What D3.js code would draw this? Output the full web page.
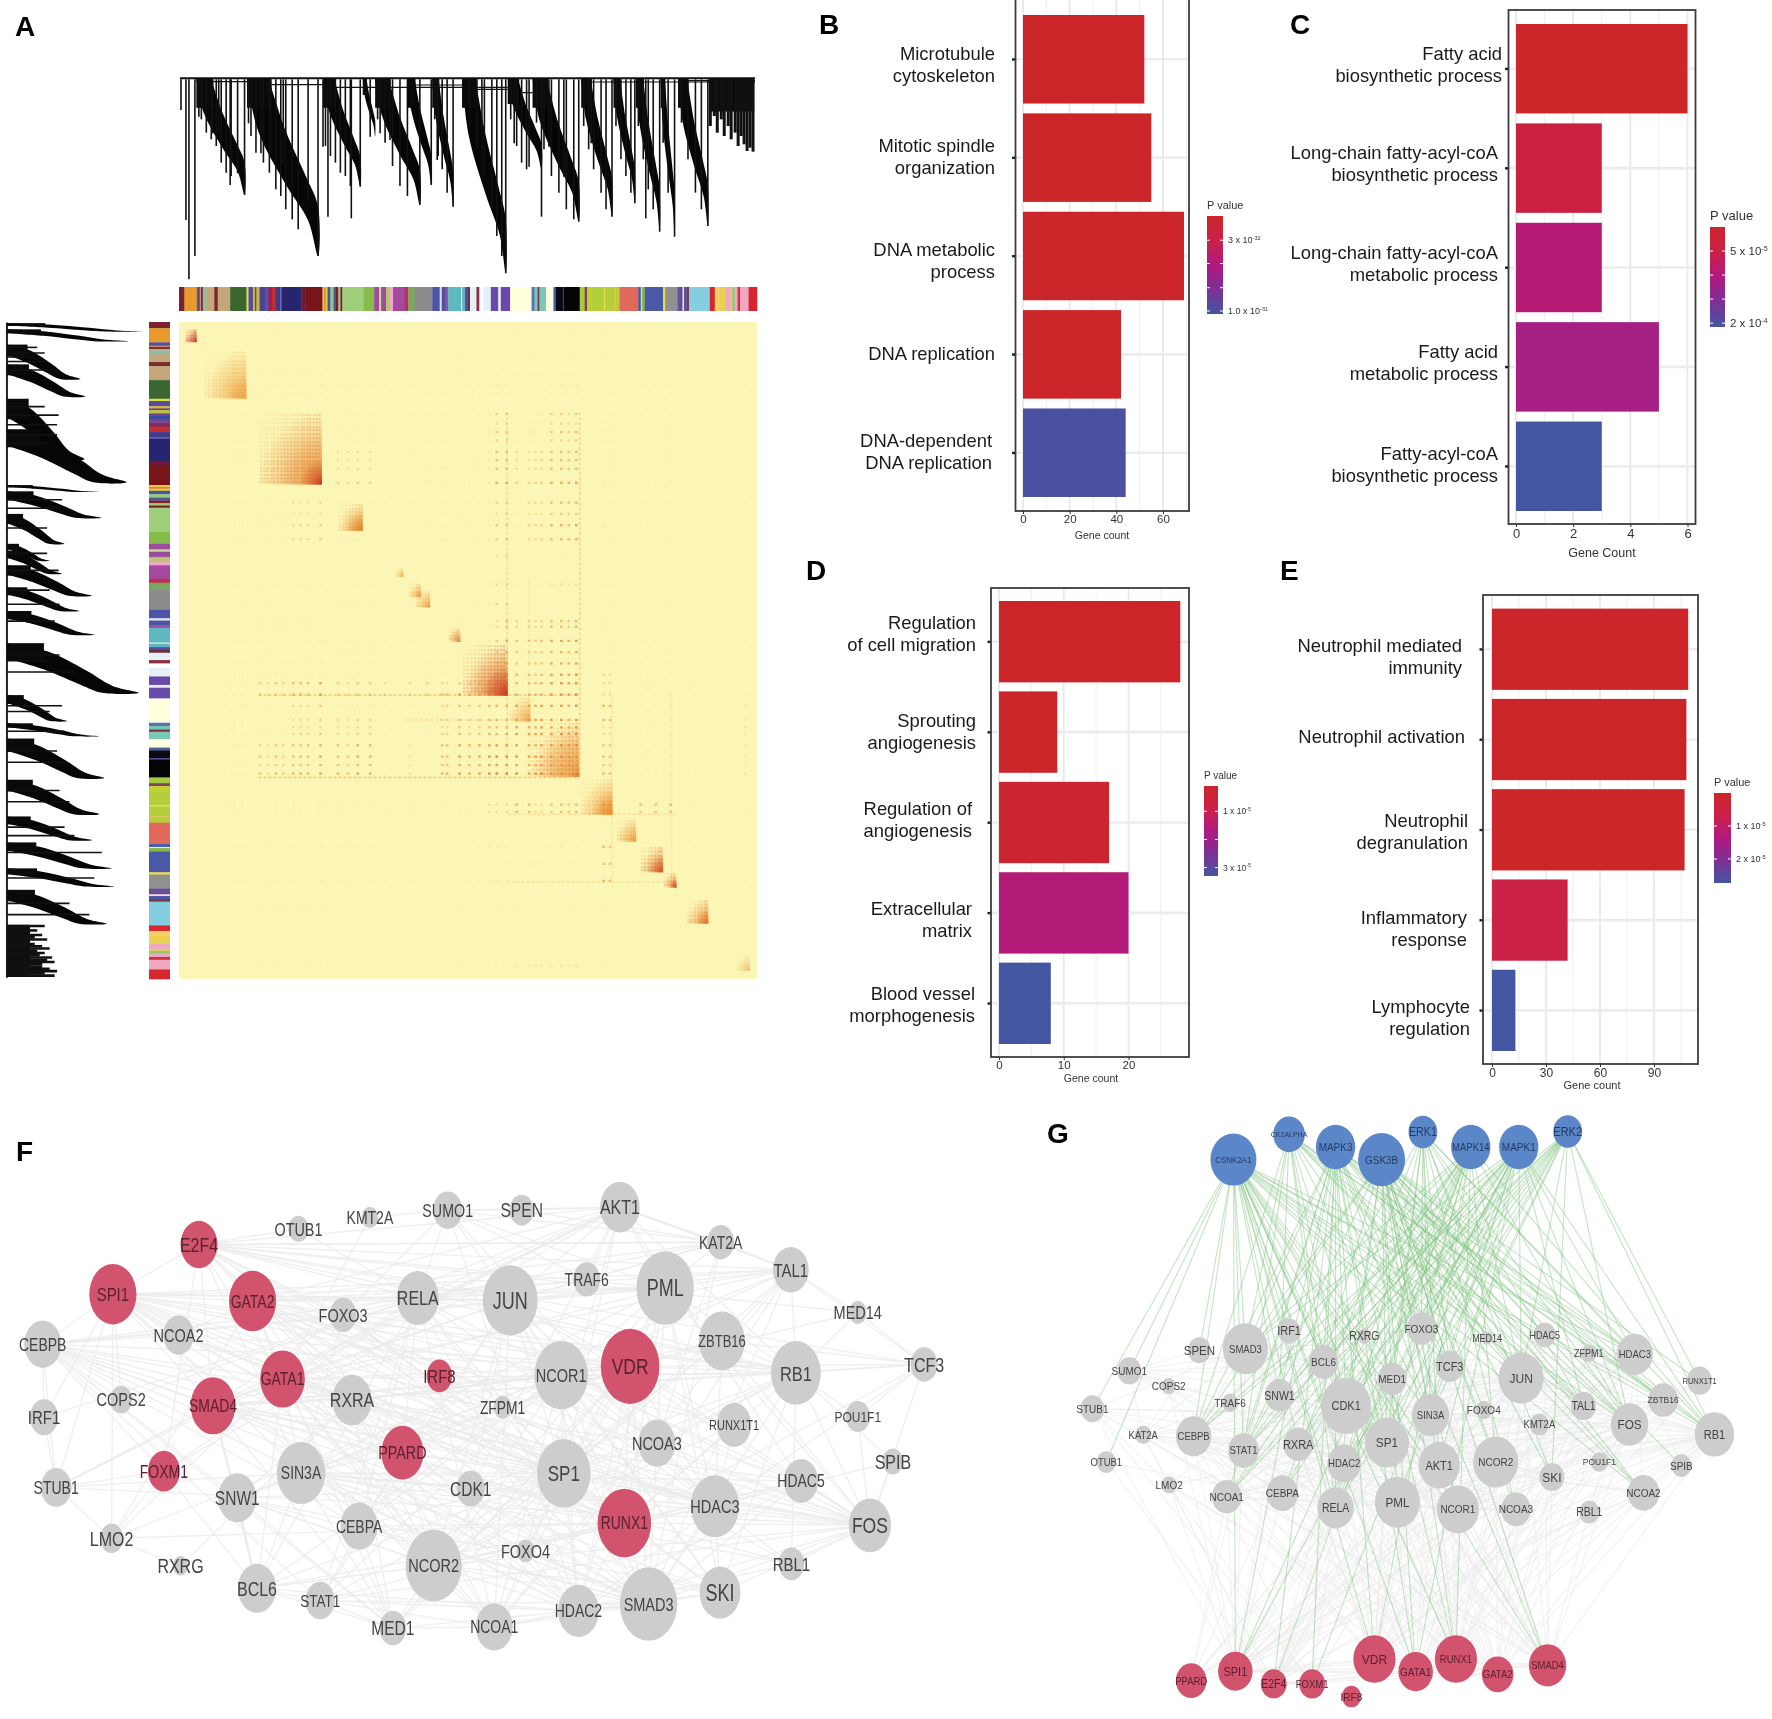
<!DOCTYPE html>
<html>
<head>
<meta charset="utf-8">
<script src="https://cdn.jsdelivr.net/npm/d3@7"></script>
<style>
  html, body { margin: 0; background: #fff; }
  svg { display: block; filter: blur(0.45px); }
  text { font-family: "Liberation Sans", Arial, sans-serif; }
</style>
</head>
<body>
<div id="visualization"></div>
<script>
// ---- panel A: gene tree, module strip, TOM heatmap (gene rank runs 0..1164) ----
const stripStart = [0,11,36,42,44,48,58,71,78,103,136,140,149,153,156,162,165,173,178,187,195,204,207,246,255,289,293,295,299,305,311,316,321,325,329,372,393,403,407,417,425,431,455,462,475,510,525,529,537,542,568,570,576,581,586,599,605,613,628,643,648,667,710,716,722,726,739,754,759,773,775,807,817,822,831,856,858,876,879,887,925,930,932,938,975,979,1004,1011,1014,1017,1022,1027,1069,1079,1089,1101,1111,1114,1119,1125,1130,1147];
const stripColor = ['#7b2030','#e89a2c','#5a4f9c','#c9a57a','#8b2a2a','#9db89a','#c5a77a','#7a2a2a','#c4a67a','#3a6630','#d8e04a','#5b4a9c','#c9b84a','#7a3a6a','#b8c040','#6a3a8a','#3a4aa0','#6a4aa0','#8a2a5a','#c92a2a','#3f3a8a','#5d5aaa','#27256f','#6b1a3a','#781519','#e8c84a','#d44444','#f0d020','#3a5ab0','#9ac87a','#4a5aa0','#7a2030','#a8c870','#7a2030','#a0cf7c','#86bd4a','#a04c9c','#c8d4a0','#a04c9c','#b8c870','#f0a8c8','#a448a0','#c03050','#7aa860','#8b8b8b','#4c55a5','#e0e0f0','#4c55a5','#9a50a0','#5fb8c0','#e0f0f5','#5fb8c0','#5a48a0','#6a3040','#e6f0f8','#8a3040','#ffffff','#e6f0f8','#6a4aa8','#e8eef8','#6a4aa8','#ffffdc','#5a70b8','#70c8b8','#8a3040','#78c8b8','#ffffe0','#4060a8','#0a0a10','#3050a0','#050508','#a8c840','#804060','#c0d030','#b4cf3c','#e8e040','#b4cf3c','#e0c040','#b4cf3c','#e2685c','#4058a8','#f0e8d0','#88b848','#4a58a8','#e8e040','#909090','#6050a0','#a03050','#d0e8f0','#4a58a8','#7a3a50','#85cde0','#d8262f','#f8d060','#e8d050','#f0a8c0','#e8d050','#90c870','#f0a8c0','#d03040','#f0a8c0','#d8262f'];
const stripEnd = 1164;

const moduleFrom = [13,50,160,320,435,462,475,542,570,662,708,808,880,928,975,1022,1120];
const moduleTo = [36,136,288,370,452,488,506,567,662,708,806,873,921,975,1002,1066,1150];
const moduleHeat = [0.85,0.42,0.6,0.5,0.35,0.5,0.45,0.6,0.72,0.4,0.6,0.5,0.5,0.65,0.6,0.55,0.2];

const coreFrom = [98,205,245,335,585,610,725,785,830,945,985,1040];
const coreTo = [136,288,288,370,662,662,806,806,873,975,1002,1066];
const coreHeat = [0.3,0.3,0.95,0.55,0.3,0.95,0.25,0.6,0.5,0.75,0.85,0.6];

const fineHub = [15,19,24,29,33,54,61,70,76,83,90,97,103,109,114,120,126,131,165,172,178,186,191,199,206,213,219,226,233,239,247,252,259,264,271,277,283,324,331,337,344,350,357,363,368,438,445,449,465,471,479,484,491,497,503,545,550,556,561,574,581,589,596,603,610,616,623,629,636,642,649,655,667,674,681,689,696,703,712,720,727,735,742,749,756,763,771,778,786,793,801,812,819,826,834,841,849,856,864,870,884,890,897,903,910,916,932,938,946,952,959,966,971,978,984,991,997,1026,1032,1039,1046,1052,1059,1063,1124,1131,1139,1146];

const hubRank = [20,58,92,112,128,163,180,195,210,230,245,260,285,320,340,360,385,415,465,500,530,540,565,585,605,625,640,660,680,705,718,730,750,770,785,800,855,868,930,960,990,1040,1140];
const hubWeight = [0.4,0.4,0.5,0.7,0.7,0.7,0.5,0.9,0.6,0.7,0.7,0.7,1,0.7,0.5,0.9,0.8,0.5,0.6,0.7,0.5,0.5,0.8,0.6,0.7,0.9,1,1,0.9,0.8,0.7,0.9,0.8,0.9,0.7,1,1,0.9,0.6,0.6,0.7,0.5,0.5];

const crossCol0 = [0,320,640,705,160,530,660,160,662,662,920,660,665,855,430,808];
const crossCol1 = [1164,390,806,806,390,660,806,660,806,710,1000,1002,810,870,470,873];
const crossRow0 = [0,224,224,305,746,746,523,640,661,849,849,991,1105,740,746,610];
const crossRow1 = [1164,289,289,393,807,807,661,661,807,872,872,1002,1142,1000,807,806];
const crossHeat = [0.09,0.3,0.3,0.32,0.45,0.55,0.55,0.35,0.55,0.45,0.4,0.4,0.2,0.32,0.22,0.15];

// long dashes of strong genes: rank of the gene, range of the partners
const bandRank = [661,807,705,872,992];
const bandFrom = [160,160,455,662,660];
const bandTo = [806,806,806,1002,1002];
const bandHeat = [0.3,0.38,0.16,0.18,0.15];

// comets: first rank, last rank, depth of the tip
const topCometStart = [35,137,290,370,395,460,510,570,662,712,810,875,920,970,1005];
const topCometEnd = [132,280,365,395,485,508,552,658,730,805,872,918,968,998,1065];
const topCometTip = [357,540,332,182,387,327,392,592,280,437,422,382,467,482,450];
const topSpikeRank = [4,14,20,32,40,45,55,65,68,75,80,85,95,103,105,118,132,140,145,155,165,170,182,185,195,205,210,215,228,240,260,280,295,300,305,290,315,325,335,345,347,365,385,400,405,415,425,430,445,460,485,508,515,520,522,530,540,552,585,600,610,615,630,640,650,658,668,675,680,690,700,705,720,730,735,745,750,765,775,780,795,805,815,825,830,835,850,860,872,880,890,900,910,918,925,935,940,945,955,968,975,985,998,1012,1025,1040,1052,1065,1070,1078,1084,1092,1098,1106,1112,1120,1126,1132,1138,1144,1150,1156];
const topSpikeDepth = [102,432,610,540,122,130,170,190,172,210,172,260,290,327,300,292,357,142,180,230,232,260,290,232,340,360,262,400,430,460,372,540,210,422,240,212,260,290,300,330,427,332,182,130,172,200,192,270,330,360,387,327,130,252,240,280,350,392,150,220,302,300,400,480,540,592,130,202,210,260,280,272,140,422,220,212,300,350,302,400,430,437,150,220,202,280,350,400,422,150,250,300,350,382,150,250,427,340,400,467,200,350,482,140,250,350,400,450,150,120,170,130,180,150,190,170,210,180,205,225,215,227];
const topLinkFrom = [2,35,137,290,460,570,662,810,1005];
const topLinkTo = [1160,137,290,662,570,662,712,1160,1160];
const topLinkDepth = [7,17,26,34,27,40,50,18,14];

const leftCometStart = [2,13,40,75,136,190,289,300,340,393,405,431,470,512,520,569,661,711,738,811,876,922,968,1006];
const leftCometEnd = [17,34,101,132,243,284,301,347,393,423,446,485,512,554,539,657,707,734,808,872,918,968,1000,1066];
const leftCometTip = [290,258,162,172,170,255,200,205,130,100,125,185,160,190,120,280,135,200,210,200,185,225,230,215];
const leftSpikeRank = [1070,1074,1078,1082,1086,1090,1094,1098,1102,1106,1110,1114,1118,1122,1126,1130,1134,1138,1142,1146,1150,1154,1158,45,55,62,70,85,150,165,182,200,215,315,330,365,410,440,475,500,530,590,600,620,680,690,725,760,780,830,850,895,910,940,985,1030,1050];
const leftSpikeDepth = [90,60,75,50,85,70,95,60,70,85,100,75,90,80,105,95,110,85,85,100,115,90,110,75,90,70,95,110,90,118,115,115,100,125,120,95,95,118,100,120,110,120,100,150,125,100,130,115,130,120,140,130,150,205,190,140,180];

// ---- panels B to E: enrichment bars ----
const bTerms = [['Microtubule','cytoskeleton'],['Mitotic spindle','organization'],['DNA metabolic','process'],['DNA replication'],['DNA-dependent','DNA replication']];
const bCounts = [52,55,69,42,44];
const bPvals = [6e-33,6e-33,6e-33,6e-33,1e-31];
const bTicks = [3e-32,5.3e-32,7.7e-32,1e-31];
const cTerms = [['Fatty acid','biosynthetic process'],['Long-chain fatty-acyl-coA','biosynthetic process'],['Long-chain fatty-acyl-coA','metabolic process'],['Fatty acid','metabolic process'],['Fatty-acyl-coA','biosynthetic process']];
const cCounts = [6,3,3,5,3];
const cPvals = [2e-6,4e-5,9.5e-5,1.15e-4,2.08e-4];
const cTicks = [5e-5,1e-4,1.5e-4,2e-4];
const dTerms = [['Regulation','of cell migration'],['Sprouting','angiogenesis'],['Regulation of','angiogenesis'],['Extracellular','matrix'],['Blood vessel','morphogenesis']];
const dCounts = [28,9,17,20,8];
const dPvals = [1e-6,1e-6,3e-6,1.6e-5,3.3e-5];
const dTicks = [1e-5,2e-5,3e-5];
const eTerms = [['Neutrophil mediated','immunity'],['Neutrophil activation'],['Neutrophil','degranulation'],['Inflammatory','response'],['Lymphocyte','regulation']];
const eCounts = [109,108,107,42,13];
const ePvals = [1e-7,1e-7,2e-7,6e-6,2.73e-5];
const eTicks = [1e-5,2e-5];

// ---- panels F and G: protein network ----
const fNames = ['E2F4','OTUB1','KMT2A','SUMO1','SPEN','AKT1','KAT2A','TAL1','PML','TRAF6','JUN','RELA','FOXO3','GATA2','SPI1','NCOA2','CEBPB','MED14','ZBTB16','RB1','TCF3','VDR','NCOR1','IRF8','GATA1','RXRA','SMAD4','COPS2','IRF1','ZFPM1','POU1F1','RUNX1T1','NCOA3','PPARD','SIN3A','SP1','FOXM1','STUB1','SNW1','CDK1','SPIB','HDAC5','HDAC3','FOS','CEBPA','RUNX1','LMO2','NCOR2','FOXO4','RXRG','BCL6','STAT1','MED1','NCOA1','HDAC2','SMAD3','SKI','RBL1'];
const fX = [312,468,580,702,818,972,1130,1240,1043,920,800,655,538,396,177,280,67,1345,1132,1248,1449,988,880,689,443,552,334,190,69,788,1345,1151,1030,631,472,884,257,88,372,738,1400,1256,1121,1364,563,979,175,680,824,283,403,502,616,775,907,1017,1129,1241];
const fY = [326,285,255,236,236,228,320,392,440,417,472,466,510,474,456,563,587,504,578,662,640,645,668,670,678,733,748,732,778,752,776,798,846,871,924,925,919,962,989,965,894,945,1011,1061,1063,1055,1095,1166,1128,1167,1226,1258,1330,1327,1285,1267,1237,1162];
const fR = [29,16,13,23,19,31,21,28,45,21,43,33,21,37,37,24,29,14,36,39,21,46,42,20,35,31,35,17,22,14,19,27,29,33,38,42,25,24,30,22,16,27,38,33,29,42,18,44,14,12,30,23,21,29,32,45,32,20];
const fFont = [16,14.4,14,14.3,15.6,16,14,15,18,14,18,16,14.5,14,15,14.5,14,14.5,13,16.5,16,17.5,14.5,15,14,16,14,14.5,15,13.8,12,11,14.5,14.3,14,17,14,14,15.5,15.5,16,14,14.5,17.5,14,14,16,14.5,14.5,16,16,13.5,15.5,14,14,14.5,18,15];
const redGenes = ['E2F4','GATA2','SPI1','VDR','IRF8','GATA1','SMAD4','PPARD','FOXM1','RUNX1'];

const gNames = ['CSNK2A1','CK2ALPHA','MAPK3','GSK3B','ERK1','MAPK14','MAPK1','ERK2','SPEN','SMAD3','IRF1','RXRG','FOXO3','MED14','HDAC5','ZFPM1','HDAC3','RUNX1T1','SUMO1','COPS2','BCL6','MED1','TCF3','JUN','ZBTB16','STUB1','TRAF6','SNW1','CDK1','SIN3A','FOXO4','TAL1','FOS','RB1','KAT2A','CEBPB','STAT1','RXRA','SP1','KMT2A','OTUB1','HDAC2','AKT1','NCOR2','POU1F1','SPIB','SKI','NCOA2','LMO2','NCOA1','CEBPA','RELA','PML','NCOR1','NCOA3','RBL1','PPARD','SPI1','E2F4','FOXM1','IRF8','VDR','GATA1','RUNX1','GATA2','SMAD4'];
const gX = [445,561,658,754,840,940,1040,1142,374,470,561,718,837,974,1094,1186,1282,1417,228,310,633,776,896,1045,1341,151,438,541,680,856,967,1175,1271,1448,257,362,466,580,765,1083,180,676,874,992,1208,1379,1109,1300,311,431,547,658,787,913,1034,1187,357,449,529,609,691,739,825,909,996,1100];
const gY = [151,87,119,151,81,119,119,80,634,630,585,598,579,603,595,642,644,711,686,725,664,707,675,704,760,782,767,748,775,798,785,775,822,847,848,852,888,872,868,822,917,921,925,917,917,926,955,995,975,1005,996,1033,1019,1037,1037,1044,1471,1447,1479,1479,1511,1416,1448,1416,1455,1432];
const gR = [48,33,41,49,30,41,41,30,24,47,23,14,30,12,23,16,38,26,25,15,31,30,29,47,31,25,17,30,52,39,17,26,39,41,17,37,32,31,46,20,20,35,43,47,18,21,26,33,16,31,33,38,47,44,31,21,32,36,27,27,20,44,36,44,33,39];
const gFont = [8,7,10,10,10.7,9.5,10,11,11.5,9.5,11,10.5,10,9,9,9,9.5,7.5,10,10,10,10,11,12,8.5,10,10,10.5,11,9.5,10,10.5,11.7,11,9.5,9.5,9.5,11,11.7,9.5,9.5,9.5,11,10,8.5,10,12,10,10,10,10,10.5,11.7,10,10,10.5,9.5,11,10.5,9.5,10,12,10,9.5,9.5,9.5];
const blueGenes = gNames.slice(0, 8);

// one row per gene: the gene, then its partners
const ppiLinks = [
  'SP1 JUN PML VDR RUNX1 NCOR1 NCOR2 SMAD3 SMAD4 GATA1 GATA2 SPI1 RELA AKT1 SIN3A HDAC2 HDAC3 RB1 FOS STAT1 CEBPA CEBPB E2F4 TAL1 CDK1 PPARD BCL6 MED1 NCOA1 NCOA2 NCOA3 ZBTB16 SKI FOXO3 FOXO4 RXRA',
  'JUN PML VDR RUNX1 NCOR1 NCOR2 SMAD3 SMAD4 GATA1 GATA2 SPI1 RELA AKT1 HDAC3 RB1 FOS STAT1 CEBPA CEBPB TAL1 CDK1 E2F4 NCOA1 NCOA3 SKI SUMO1 TRAF6 KAT2A',
  'PML VDR RUNX1 NCOR1 NCOR2 SMAD3 SMAD4 SIN3A HDAC2 HDAC3 RB1 FOS AKT1 SPI1 GATA2 ZBTB16 TAL1 RELA SUMO1 SKI E2F4 CEBPB KAT2A',
  'VDR NCOR1 NCOR2 SMAD3 SMAD4 SIN3A HDAC2 HDAC3 RB1 FOS RUNX1 GATA1 GATA2 RXRA PPARD NCOA1 NCOA2 NCOA3 MED1 MED14 SNW1 ZBTB16 TCF3 RUNX1T1 SPI1 CEBPB ZFPM1',
  'RUNX1 SMAD3 SMAD4 SPI1 GATA1 GATA2 FOS HDAC2 HDAC3 NCOR1 NCOR2 SIN3A CEBPA CEBPB RB1 SKI TAL1 RUNX1T1 STAT1 BCL6 ZFPM1 E2F4 CDK1 TCF3 HDAC5 FOXO3',
  'NCOR1 NCOR2 SIN3A HDAC2 HDAC3 HDAC5 RXRA PPARD BCL6 ZBTB16 SKI RUNX1T1 NCOA1 NCOA3 RB1 SPI1 GATA2 SMAD4 CEBPA STAT1 SNW1 TAL1',
  'NCOR2 SIN3A HDAC2 HDAC3 HDAC5 RXRA PPARD BCL6 ZBTB16 SKI RUNX1T1 NCOA1 GATA1 GATA2 SMAD3 SPI1 FOS SNW1 RB1',
  'SMAD3 SMAD4 SKI FOS GATA1 GATA2 SPI1 RELA HDAC2 HDAC3 SIN3A CEBPA CEBPB NCOA1 STAT1 RB1 TAL1 KAT2A SNW1 FOXO3 MED1 FOXO4 HDAC5',
  'SMAD4 SKI FOS GATA1 E2F4 RB1 SNW1 TCF3 CEBPB HDAC5 STUB1 FOXO3 SPI1 BCL6 MED1 RBL1',
  'RELA AKT1 STAT1 CEBPA CEBPB HDAC2 HDAC3 TRAF6 NCOA1 FOXM1 SPI1 GATA1 GATA2 FOS IRF1 FOXO3 E2F4 RB1 KAT2A COPS2 BCL6 OTUB1',
  'AKT1 FOXO3 FOXO4 TRAF6 CDK1 STUB1 RB1 TAL1 E2F4 GATA1 SMAD4 GATA2 FOXM1 HDAC5 SPEN SUMO1 KAT2A',
  'SPI1 GATA1 GATA2 CEBPA CEBPB IRF1 RUNX1T1 TAL1 FOS E2F4 NCOA2 HDAC2 HDAC3 COPS2 LMO2 STUB1 RB1 NCOA1',
  'GATA1 GATA2 TAL1 ZFPM1 LMO2 E2F4 HDAC3 HDAC2 RB1 FOS CEBPA CEBPB SIN3A NCOA1 BCL6 KMT2A',
  'GATA2 TAL1 RB1 FOS LMO2 NCOA2 KAT2A E2F4 MED1 ZFPM1 RXRA HDAC3 HDAC5',
  'E2F4 RB1 RBL1 HDAC2 HDAC3 OTUB1 KAT2A CDK1 TAL1 FOXM1 SIN3A TCF3 FOXO3 MED14',
  'RXRA PPARD VDR NCOA1 NCOA2 NCOA3 NCOR1 MED1 RXRG HDAC3 SMAD4 CEBPB SNW1',
  'PPARD NCOA1 NCOA2 SIN3A FOS STAT1 RELA',
  'SIN3A HDAC2 HDAC3 SKI FOS MED1 SNW1 BCL6 CDK1 FOXO3 STUB1 HDAC5 RBL1',
  'HDAC2 HDAC3 BCL6 FOS STAT1 SMAD3 NCOA1 CEBPB SUMO1 RBL1 SKI FOXO4 HDAC5',
  'HDAC3 FOS SKI RBL1 HDAC5 RUNX1T1 ZBTB16 SUMO1 NCOA2 SPIB TCF3',
  'FOS SKI RBL1 SPIB RB1 TCF3 ZBTB16 NCOA3 HDAC5 POU1F1 STAT1',
  'RB1 TCF3 MED14 TAL1 ZBTB16 POU1F1 RBL1 NCOA3 SPIB CDK1 SKI',
  'TCF3 MED14 TAL1 POU1F1 ZBTB16',
  'TAL1 ZBTB16 MED14 KAT2A AKT1 LMO2 NCOA1',
  'CEBPB CEBPA IRF1 STUB1 FOXM1 NCOA2 SNW1 SMAD4 STAT1 COPS2 MED1',
  'STUB1 IRF1 SMAD4 FOXM1 LMO2 FOS',
  'SNW1 NCOR2 CDK1 MED1 BCL6 SKI',
  'BCL6 STAT1 SMAD4 FOXM1 NCOR2 MED1 SNW1',
  'NCOA1 STAT1 MED1 NCOA3 HDAC2',
  'KAT2A AKT1 TRAF6 SPEN SUMO1 E2F4 NCOA3',
  'SUMO1 SPEN TRAF6 KMT2A RELA FOXO3',
  'MED1 CEBPA STAT1 NCOR2 VDR',
  'LMO2 FOXM1 RUNX1 RXRG'
];
const kinaseLinks = [
  'CSNK2A1 STUB1 SUMO1 OTUB1 SPEN SMAD3 IRF1 BCL6 SNW1 CDK1 SP1 JUN FOS TAL1 HDAC3 HDAC2 RELA PML NCOR1 SPI1 SIN3A STAT1 CEBPB RXRA ZBTB16 RB1 AKT1 FOXO3 MED1 TCF3 SMAD4 RUNX1 GATA1 VDR NCOA2',
  'CK2ALPHA CEBPB STAT1 SMAD3 BCL6 CDK1 SP1 JUN FOS RELA SIN3A SNW1 TCF3 ZBTB16 HDAC3 RB1 NCOA2 TAL1',
  'MAPK3 STAT1 CEBPB SMAD3 FOXO3 SP1 JUN FOS RELA CDK1 SIN3A SPI1 E2F4 ZBTB16 TAL1 RB1 HDAC3 NCOA2 NCOA1 BCL6 SNW1 TCF3 GATA1 VDR SMAD4 RUNX1 FOXM1',
  'GSK3B CEBPB STAT1 SMAD3 FOXO3 SP1 JUN FOS RELA CDK1 SIN3A TCF3 NCOR1 NCOR2 PML AKT1 ZBTB16 TAL1 RB1 HDAC3 NCOA2 SPIB SMAD4 RUNX1 GATA1 BCL6 HDAC5 MED14 SKI RUNX1T1 NCOA3 FOXO4',
  'ERK1 STAT1 CEBPA SP1 JUN FOS RELA FOXO3 SIN3A TCF3 HDAC3 NCOA3 AKT1 MED1 RB1 SKI TAL1',
  'MAPK14 CEBPB STAT1 SP1 JUN FOS RELA CDK1 FOXO3 SIN3A SNW1 BCL6 RXRA NCOR2 SMAD3 RB1 VDR RUNX1 CEBPA NCOA1 HDAC2 SPI1 E2F4',
  'MAPK1 CEBPB STAT1 SP1 JUN FOS RELA CDK1 FOXO3 SIN3A SNW1 BCL6 RXRA CEBPA NCOA1 HDAC2 SMAD3 TAL1 AKT1 PML HDAC3 RB1 FOXM1 SPI1 GATA1',
  'ERK2 STAT1 CEBPB SP1 JUN FOS CDK1 TCF3 RELA FOXO3 SIN3A HDAC2 NCOA1 SKI RB1 RUNX1T1 RXRA BCL6'
];

// gradient used for P value colours and legends
const pvalStops = ['#cc2529', '#cb2048', '#b01a80', '#7d3096', '#4456a1'];

const svg = d3.select('#visualization').append('svg')
  .attr('width', 1772).attr('height', 1719);
const defs = svg.append('defs');

// ---- panel letters
const letters = [['A', 15, 36], ['B', 819, 34], ['C', 1290, 34], ['D', 806, 580], ['E', 1280, 580], ['F', 16, 1161], ['G', 1047, 1143]];
svg.append('g').selectAll('text').data(letters).join('text')
  .attr('x', d => d[1]).attr('y', d => d[2]).text(d => d[0])
  .style('font-size', '28px').style('font-weight', 'bold');

// ---- panel A
const geneX = d3.scaleLinear().domain([0, 1164]).range([179, 757]);
const geneY = d3.scaleLinear().domain([0, 1164]).range([322, 979]);
const topDepth = d3.scaleLinear().domain([0, 612]).range([76, 280]);
const leftDepth = d3.scaleLinear().domain([0, 300]).range([0, 149]);

const heat = svg.append('g').attr('class', 'heatmap');
heat.append('rect')
  .attr('x', geneX(0)).attr('y', geneY(0))
  .attr('width', geneX(1164) - geneX(0)).attr('height', geneY(1164) - geneY(0))
  .attr('fill', '#fcf6b6');

const heatColor = d3.scaleLinear().domain([0, 0.5, 1]).range(['#f9dc8e', '#ea9433', '#c01c1a']);

// grid of hub genes inside each cross block, mirrored over the diagonal
const cells = heat.append('g');
crossCol0.forEach((c0, b) => {
  hubRank.forEach((cr, i) => {
    hubRank.forEach((rr, j) => {
      if (cr < c0 || cr > crossCol1[b] || rr < crossRow0[b] || rr > crossRow1[b]) return;
      const a = crossHeat[b] * hubWeight[i] * hubWeight[j];
      const spots = b === 0 ? [[cr, rr]] : [[cr, rr], [rr, cr]];
      spots.forEach(p => {
        cells.append('rect')
          .attr('x', geneX(p[0]) - 1.3).attr('y', geneY(p[1]) - 1.1)
          .attr('width', 2.6).attr('height', 2.2)
          .attr('fill', '#e3781f').attr('opacity', a);
      });
    });
  });
});
bandRank.forEach((r, i) => {
  heat.append('line')
    .attr('x1', geneX(bandFrom[i])).attr('x2', geneX(bandTo[i]))
    .attr('y1', geneY(r)).attr('y2', geneY(r))
    .attr('stroke', '#e3781f').attr('stroke-width', 1.6)
    .attr('stroke-dasharray', '3 2').attr('opacity', bandHeat[i]);
  heat.append('line')
    .attr('y1', geneY(bandFrom[i])).attr('y2', geneY(bandTo[i]))
    .attr('x1', geneX(r)).attr('x2', geneX(r))
    .attr('stroke', '#e3781f').attr('stroke-width', 1.6)
    .attr('stroke-dasharray', '3 2').attr('opacity', bandHeat[i] * 0.7);
});

function heatBlock(from, to, h, name, i) {
  const id = `${name}${i}`;
  const g = defs.append('radialGradient').attr('id', id)
    .attr('cx', 1).attr('cy', 1).attr('r', 1).attr('fx', 1).attr('fy', 1);
  g.append('stop').attr('offset', 0).attr('stop-color', heatColor(h)).attr('stop-opacity', 0.95);
  g.append('stop').attr('offset', 0.45).attr('stop-color', heatColor(h)).attr('stop-opacity', 0.45);
  g.append('stop').attr('offset', 1).attr('stop-color', heatColor(h)).attr('stop-opacity', 0);
  heat.append('rect')
    .attr('x', geneX(from)).attr('y', geneY(from))
    .attr('width', geneX(to) - geneX(from)).attr('height', geneY(to) - geneY(from))
    .attr('fill', `url(#${id})`);
}
moduleFrom.forEach((f, i) => heatBlock(f, moduleTo[i], moduleHeat[i], 'mod', i));
coreFrom.forEach((f, i) => heatBlock(f, coreTo[i], coreHeat[i], 'core', i));

// grain inside the modules
const grain = heat.append('g');
moduleFrom.forEach((f, m) => {
  const t = moduleTo[m];
  const inside = fineHub.filter(d => d >= f && d <= t);
  inside.forEach(c => inside.forEach(r => {
    const near = (c + r - 2 * f) / (2 * (t - f));
    grain.append('rect')
      .attr('x', geneX(c) - 1).attr('y', geneY(r) - 1)
      .attr('width', 2).attr('height', 2)
      .attr('fill', heatColor(moduleHeat[m] + 0.1))
      .attr('opacity', moduleHeat[m] * near * 0.8);
  }));
});

// module strips
const stripG = svg.append('g');
stripStart.forEach((s, i) => {
  const e = i + 1 < stripStart.length ? stripStart[i + 1] : stripEnd;
  stripG.append('rect').attr('x', geneX(s)).attr('y', 287)
    .attr('width', geneX(e) - geneX(s) + 0.3).attr('height', 24).attr('fill', stripColor[i]);
  stripG.append('rect').attr('x', 149).attr('y', geneY(s))
    .attr('width', 21).attr('height', geneY(e) - geneY(s) + 0.3).attr('fill', stripColor[i]);
});

// dendrograms
const treeLine = d3.line().curve(d3.curveCatmullRom);
function comet(g, s, e, tip, toPoint, sd) {
  const L = e - s, D = tip - sd;
  const pts = [
    [s, sd], [s + L * 0.16, sd + D * 0.3], [s + L * 0.55, sd + D * 0.6],
    [s + L * 0.86, sd + D * 0.8], [e, tip],
    [e, sd + D * 0.72], [s + L * 0.84, sd + D * 0.56],
    [s + L * 0.55, sd + D * 0.3], [s + L * 0.32, sd + D * 0.02]
  ];
  g.append('path').attr('d', treeLine(pts.map(toPoint)) + 'Z').attr('fill', '#060606');
}
// solid block at the root of a cluster
function crown(g, s, e, tip, toPoint, sd, share) {
  const a = toPoint([s, sd]), b = toPoint([s + (e - s) * share, sd + (tip - sd) * 0.28]);
  g.append('rect')
    .attr('x', Math.min(a[0], b[0])).attr('y', Math.min(a[1], b[1]))
    .attr('width', Math.abs(b[0] - a[0])).attr('height', Math.abs(b[1] - a[1]))
    .attr('fill', '#0a0a0a');
}

const topTree = svg.append('g').attr('class', 'top-tree');
const topPt = p => [geneX(p[0]), topDepth(p[1])];
topLinkFrom.forEach((f, i) => {
  topTree.append('line')
    .attr('x1', geneX(f)).attr('x2', geneX(topLinkTo[i]))
    .attr('y1', topDepth(topLinkDepth[i])).attr('y2', topDepth(topLinkDepth[i]))
    .attr('stroke', '#111').attr('stroke-width', i === 0 ? 2 : 1.2);
});
topCometStart.forEach((s, i) => {
  comet(topTree, s, topCometEnd[i], topCometTip[i], topPt, 8);
  crown(topTree, s, topCometEnd[i], Math.min(topCometTip[i], 320), topPt, 8, 0.34);
});
crown(topTree, 1068, 1160, 360, topPt, 8, 0.98);
topTree.append('g').selectAll('line').data(topSpikeRank).join('line')
  .attr('x1', d => geneX(d)).attr('x2', d => geneX(d))
  .attr('y1', topDepth(10))
  .attr('y2', (d, i) => topDepth(topSpikeDepth[i]))
  .attr('stroke', '#111').attr('stroke-width', d => d >= 1068 ? 3 : 1.6);

const leftTree = svg.append('g').attr('class', 'left-tree');
const leftPt = p => [leftDepth(p[1]), geneY(p[0])];
leftTree.append('line').attr('x1', leftDepth(14)).attr('x2', leftDepth(14))
  .attr('y1', geneY(1)).attr('y2', geneY(1162)).attr('stroke', '#222').attr('stroke-width', 2);
leftCometStart.forEach((s, i) => {
  comet(leftTree, s, leftCometEnd[i], leftCometTip[i], leftPt, 14);
  crown(leftTree, s, leftCometEnd[i], leftCometTip[i], leftPt, 14, 0.34);
});
crown(leftTree, 1068, 1160, 180, leftPt, 14, 0.98);
leftTree.append('g').selectAll('line').data(leftSpikeRank).join('line')
  .attr('y1', d => geneY(d)).attr('y2', d => geneY(d))
  .attr('x1', leftDepth(14))
  .attr('x2', (d, i) => leftDepth(leftSpikeDepth[i]))
  .attr('stroke', '#111').attr('stroke-width', d => d >= 1068 ? 2.6 : 1.6);

// ---- panels B to E
function barPanel(cfg) {
  const g = svg.append('g').attr('class', `bars-${cfg.key}`);
  const x = d3.scaleLinear().domain([0, cfg.xMax]).range(cfg.xRange);
  const y = d3.scaleBand().domain(d3.range(cfg.counts.length)).range(cfg.yRange).paddingInner(0.1);
  const t = d3.scaleLinear().domain(cfg.pDomain).range([0, 1]);
  const color = d3.scaleLinear().domain(d3.range(5).map(d => d / 4)).range(pvalStops);
  const [left, right, top, bottom] = cfg.frame;

  // grid
  const minor = cfg.ticks.slice(0, -1).map((d, i) => (d + cfg.ticks[i + 1]) / 2)
    .concat([cfg.ticks[cfg.ticks.length - 1] + (cfg.ticks[1] - cfg.ticks[0]) / 2]);
  g.selectAll('.minor').data(minor.filter(d => x(d) < right)).join('line').attr('class', 'minor')
    .attr('x1', d => x(d)).attr('x2', d => x(d)).attr('y1', top).attr('y2', bottom)
    .attr('stroke', '#efefef').attr('stroke-width', 1);
  g.selectAll('.major').data(cfg.ticks).join('line').attr('class', 'major')
    .attr('x1', d => x(d)).attr('x2', d => x(d)).attr('y1', top).attr('y2', bottom)
    .attr('stroke', '#e8e8e8').attr('stroke-width', 1.8);
  g.selectAll('.row').data(cfg.counts).join('line').attr('class', 'row')
    .attr('x1', left).attr('x2', right)
    .attr('y1', (d, i) => y(i) + y.bandwidth() / 2).attr('y2', (d, i) => y(i) + y.bandwidth() / 2)
    .attr('stroke', '#ececec').attr('stroke-width', 2.6);

  // bars
  g.selectAll('.bar').data(cfg.counts).join('rect').attr('class', 'bar')
    .attr('x', x(0)).attr('y', (d, i) => y(i))
    .attr('width', d => x(d) - x(0)).attr('height', y.bandwidth())
    .attr('fill', (d, i) => color(t(cfg.pvals[i])));

  // frame
  g.append('rect').attr('x', left).attr('y', top)
    .attr('width', right - left).attr('height', bottom - top)
    .attr('fill', 'none').attr('stroke', '#3c3c3c').attr('stroke-width', 1.8);

  // x axis
  const axis = g.append('g').attr('transform', `translate(0,${bottom})`)
    .call(d3.axisBottom(x).tickValues(cfg.ticks).tickFormat(d3.format('d')).tickSize(3).tickPadding(cfg.tickPad));
  axis.select('.domain').remove();
  axis.selectAll('text').style('font-size', `${cfg.tickFont}px`).attr('fill', '#333');
  axis.selectAll('line').attr('stroke', '#333');
  g.append('text').attr('x', cfg.xLabel[0]).attr('y', cfg.xLabel[1])
    .attr('text-anchor', 'middle').attr('fill', '#333')
    .style('font-size', `${cfg.labelFont}px`).text(cfg.xTitle);

  // y ticks and term labels
  cfg.terms.forEach((lines, i) => {
    const cy = y(i) + y.bandwidth() / 2;
    g.append('rect').attr('x', left - 3.5).attr('y', cy - 1).attr('width', 3).attr('height', 2.4).attr('fill', '#222');
    const c = cy + cfg.labelDy[i];
    lines.forEach((line, k) => {
      g.append('text').attr('x', cfg.labelRight + cfg.labelDx[i])
        .attr('y', c + (k - (lines.length - 1) / 2) * 22 + 5.5)
        .attr('text-anchor', 'end').attr('fill', '#1a1a1a')
        .style('font-size', '18.4px').text(line);
    });
  });

  // legend
  const lg = cfg.legend;
  const grad = defs.append('linearGradient').attr('id', `grad-${cfg.key}`)
    .attr('x1', 0).attr('x2', 0).attr('y1', 0).attr('y2', 1);
  pvalStops.forEach((c, i) => grad.append('stop').attr('offset', i / 4).attr('stop-color', c));
  g.append('text').attr('x', lg.x).attr('y', lg.y0 - 7).attr('fill', '#333')
    .style('font-size', `${lg.titleFont}px`).text('P value');
  g.append('rect').attr('x', lg.x).attr('y', lg.y0).attr('width', lg.w).attr('height', lg.y1 - lg.y0)
    .attr('fill', `url(#grad-${cfg.key})`);
  const ly = d3.scaleLinear().domain(cfg.pDomain).range([lg.y0, lg.y1]);
  cfg.legendTicks.forEach(v => {
    [lg.x, lg.x + lg.w - 3].forEach(px => {
      g.append('line').attr('x1', px).attr('x2', px + 3).attr('y1', ly(v)).attr('y2', ly(v))
        .attr('stroke', '#fff').attr('stroke-width', 1);
    });
  });
  cfg.legendLabels.forEach(d => {
    const txt = g.append('text').attr('x', lg.x + lg.w + 5).attr('y', ly(d[0]) + lg.font * 0.35)
      .attr('fill', '#333').style('font-size', `${lg.font}px`).text(d[1]);
    txt.append('tspan').attr('dy', -lg.font * 0.38).style('font-size', `${lg.font * 0.62}px`).text(d[2]);
  });
}

barPanel({ key: 'b', terms: bTerms, counts: bCounts, pvals: bPvals, pDomain: [6e-33, 1.03e-31],
  xMax: 60, xRange: [1023, 1163], yRange: [15, 497], frame: [1015.5, 1189, -2, 511],
  ticks: [0, 20, 40, 60], tickFont: 11.5, tickPad: 1, xTitle: 'Gene count', xLabel: [1102, 539], labelFont: 10.5,
  labelRight: 995, labelDy: [6, 0, 5, 0, 0], labelDx: [0, 0, 0, 0, -3],
  legend: { x: 1207, y0: 216, y1: 314, w: 16, titleFont: 11, font: 9 },
  legendTicks: bTicks, legendLabels: [[3e-32, '3 x 10', '-32'], [1e-31, '1.0 x 10', '-31']] });

barPanel({ key: 'c', terms: cTerms, counts: cCounts, pvals: cPvals, pDomain: [0, 2.08e-4],
  xMax: 6, xRange: [1516, 1687.5], yRange: [24, 511], frame: [1508.5, 1695.5, 10, 524],
  ticks: [0, 2, 4, 6], tickFont: 13, tickPad: 2, xTitle: 'Gene Count', xLabel: [1602, 557], labelFont: 12.5,
  labelRight: 1498, labelDy: [-3, -4, -3, -3, -1], labelDx: [4, 0, 0, 0, 0],
  legend: { x: 1710, y0: 227, y1: 327, w: 15, titleFont: 13, font: 11.5 },
  legendTicks: cTicks, legendLabels: [[5e-5, '5 x 10', '-5'], [2e-4, '2 x 10', '-4']] });

barPanel({ key: 'd', terms: dTerms, counts: dCounts, pvals: dPvals, pDomain: [1e-6, 3.3e-5],
  xMax: 20, xRange: [999, 1128.5], yRange: [601, 1044], frame: [991, 1189, 588, 1057],
  ticks: [0, 10, 20], tickFont: 11.5, tickPad: 1, xTitle: 'Gene count', xLabel: [1091, 1082], labelFont: 10.5,
  labelRight: 975, labelDy: [-7, 0, -2, 8, 2], labelDx: [1, 1, -3, -3, 0],
  legend: { x: 1204, y0: 786, y1: 876, w: 14, titleFont: 10, font: 8.5 },
  legendTicks: dTicks, legendLabels: [[1e-5, '1 x 10', '-5'], [3e-5, '3 x 10', '-5']] });

barPanel({ key: 'e', terms: eTerms, counts: eCounts, pvals: ePvals, pDomain: [0, 2.73e-5],
  xMax: 90, xRange: [1492, 1654], yRange: [608.6, 1051], frame: [1483, 1698, 595, 1064],
  ticks: [0, 30, 60, 90], tickFont: 12, tickPad: 1, xTitle: 'Gene count', xLabel: [1592, 1089], labelFont: 11,
  labelRight: 1465, labelDy: [8, -2, 3, 9, 8], labelDx: [-3, 0, 3, 2, 5],
  legend: { x: 1714, y0: 793, y1: 883, w: 17, titleFont: 11, font: 9 },
  legendTicks: eTicks, legendLabels: [[1e-5, '1 x 10', '-5'], [2e-5, '2 x 10', '-5']] });

// ---- panels F and G
function parseLinks(rows) {
  const out = [];
  rows.forEach(r => {
    const [a, ...rest] = r.split(' ');
    rest.forEach(b => out.push([a, b]));
  });
  return out;
}
const ppiEdges = parseLinks(ppiLinks);
const kinaseEdges = parseLinks(kinaseLinks);

function network(cfg) {
  const g = svg.append('g').attr('class', `net-${cfg.key}`);
  const byName = new Map(cfg.names.map((n, i) => [n, i]));
  const px = i => cfg.x(cfg.xs[i]);
  const py = i => cfg.y(cfg.ys[i]);
  const edge = (edges, color, width, opacity) => {
    g.append('g').selectAll('line').data(edges.filter(e => byName.has(e[0]) && byName.has(e[1]))).join('line')
      .attr('x1', d => px(byName.get(d[0]))).attr('y1', d => py(byName.get(d[0])))
      .attr('x2', d => px(byName.get(d[1]))).attr('y2', d => py(byName.get(d[1])))
      .attr('stroke', color).attr('stroke-width', width).attr('opacity', opacity);
  };
  edge(ppiEdges, cfg.edgeColor, cfg.edgeWidth, cfg.edgeOpacity);
  if (cfg.kinase) edge(kinaseEdges, '#7fc27f', 1.1, 0.45);

  const rScale = d3.scaleLinear().domain([0, cfg.x.domain()[1]]).range([0, cfg.x.range()[1] - cfg.x.range()[0]]);
  const nodes = g.append('g').selectAll('g').data(cfg.names).join('g')
    .attr('transform', (d, i) => `translate(${px(i)},${py(i)})`);
  nodes.append('ellipse')
    .attr('rx', (d, i) => rScale(cfg.rs[i]))
    .attr('ry', (d, i) => rScale(cfg.rs[i]) * cfg.stretch)
    .attr('fill', d => redGenes.includes(d) ? '#d2536e' : blueGenes.includes(d) ? '#5b87c9' : '#cdcdcd');
  nodes.append('text')
    .attr('transform', `scale(1,${cfg.stretch})`)
    .attr('text-anchor', 'middle').attr('dy', '0.36em')
    .attr('fill', d => redGenes.includes(d) ? '#5c2030' : blueGenes.includes(d) ? '#243a63' : '#444')
    .style('font-size', (d, i) => `${cfg.fonts[i]}px`)
    .text(d => d);
}

network({ key: 'f', names: fNames, xs: fX, ys: fY, rs: fR, fonts: fFont, stretch: 1.28,
  x: d3.scaleLinear().domain([0, 1568]).range([0, 1000]),
  y: d3.scaleLinear().domain([0, 1568]).range([1120, 1719]),
  edgeColor: '#ebebeb', edgeWidth: 1.4, edgeOpacity: 0.75, kinase: false });

network({ key: 'g', names: gNames, xs: gX, ys: gY, rs: gR, fonts: gFont, stretch: 1.13,
  x: d3.scaleLinear().domain([0, 1568]).range([1020, 1772]),
  y: d3.scaleLinear().domain([0, 1568]).range([1100, 1719]),
  edgeColor: '#ececec', edgeWidth: 1.1, edgeOpacity: 0.7, kinase: true });
</script>
</body>
</html>
